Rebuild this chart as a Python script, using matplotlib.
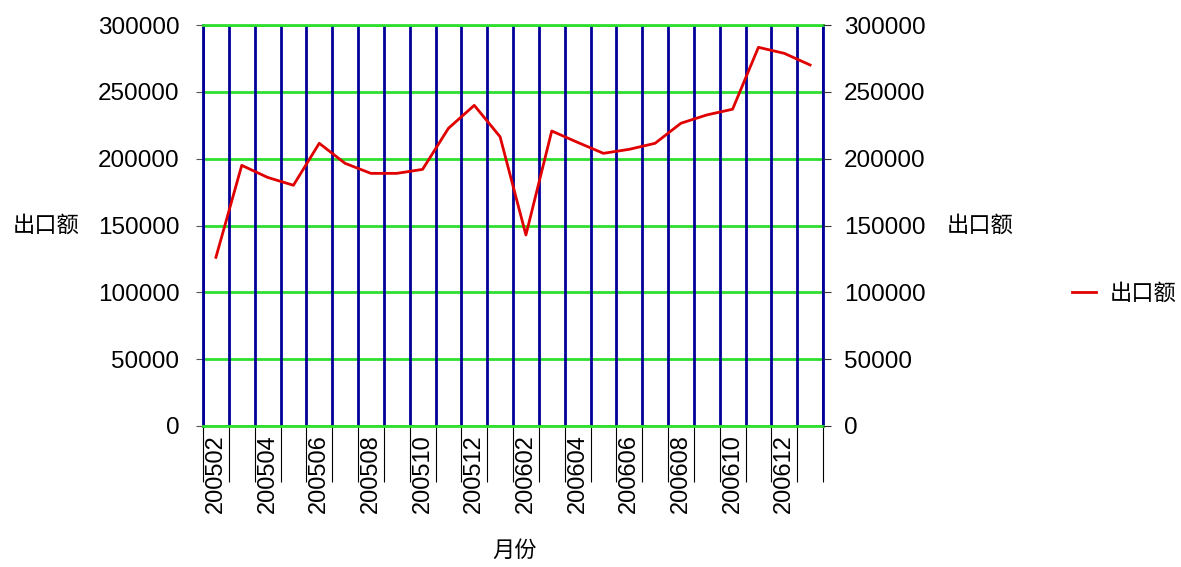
import matplotlib
matplotlib.use('Agg')
import matplotlib.pyplot as plt
from matplotlib.ticker import FixedLocator

plt.rcParams['font.family'] = ['Liberation Sans', 'Noto Sans CJK SC']

# 月份 / 出口额
months = ['200502', '200503', '200504', '200505', '200506', '200507',
          '200508', '200509', '200510', '200511', '200512', '200601',
          '200602', '200603', '200604', '200605', '200606', '200607',
          '200608', '200609', '200610', '200611', '200612', '200701']
export = [126200, 195000, 186000, 180100, 211500, 196500,
          189000, 189000, 192000, 222700, 239900, 216400,
          142900, 220700, 212200, 204000, 207000, 211500,
          226500, 232700, 237000, 283300, 278800, 270100]
yticks = [0, 50000, 100000, 150000, 200000, 250000, 300000]

navy = '#000099'
green = '#2fdf2f'
cjk = ['Noto Sans CJK SC']

fig = plt.figure(figsize=(11.81, 5.67), dpi=100)
ax = fig.add_axes([203/1181, 1-426/567, 620/1181, 401/567])

n = len(months)
xs = [i + 0.5 for i in range(n)]
line, = ax.plot(xs, export, color='#e00000', lw=2, label='出口额', zorder=3)

ax.set_xlim(0, n)
ax.set_ylim(0, 300000)
ax.set_yticks(yticks)
ax.set_yticklabels([str(v) for v in yticks], fontsize=17.5)

# category labels every other month
ax.set_xticks(xs[::2])
ax.set_xticklabels(months[::2], rotation=90, fontsize=17)
ax.tick_params(axis='x', which='major', length=0, pad=6)
ax.xaxis.set_minor_locator(FixedLocator(range(n + 1)))
ax.tick_params(axis='x', which='minor', length=40, width=0.8, color='black')
ax.tick_params(axis='y', length=5, color='#555555', pad=12)

ax.grid(which='minor', axis='x', color=navy, lw=2)
ax.grid(which='major', axis='y', color=green, lw=2)
ax.set_axisbelow(True)
ax.yaxis.set_zorder(0.4)

ax.spines['left'].set_color(navy)
ax.spines['right'].set_color(navy)
ax.spines['top'].set_color(green)
ax.spines['bottom'].set_color(green)
for s in ax.spines.values():
    s.set_linewidth(2)

ax.set_ylabel('出口额', family=cjk, fontsize=16, fontweight='light',
              rotation=0, ha='center', va='center')
ax.yaxis.set_label_coords((46-203)/620, 0.5)
ax.set_xlabel('月份', family=cjk, fontsize=16, fontweight='light', va='center')
ax.xaxis.set_label_coords((515-203)/620, (426-550)/401)

ax2 = ax.twinx()
ax2.set_ylim(ax.get_ylim())
ax2.set_yticks(yticks)
ax2.set_yticklabels([str(v) for v in yticks], fontsize=17.5)
ax2.tick_params(axis='y', length=6, color='#333333', pad=9)
for s in ax2.spines.values():
    s.set_visible(False)
ax2.set_ylabel('出口额', family=cjk, fontsize=16, fontweight='light',
               rotation=0, ha='center', va='center')
ax2.yaxis.set_label_coords((980-203)/620, 0.5)

fig.legend(handles=[line], loc='center left',
           bbox_to_anchor=(1052/1181, 1-293/567), frameon=False,
           handlelength=1.1, handletextpad=0.6,
           prop={'family': cjk, 'size': 16, 'weight': 'light'})

fig.savefig('out.png', dpi=100)
